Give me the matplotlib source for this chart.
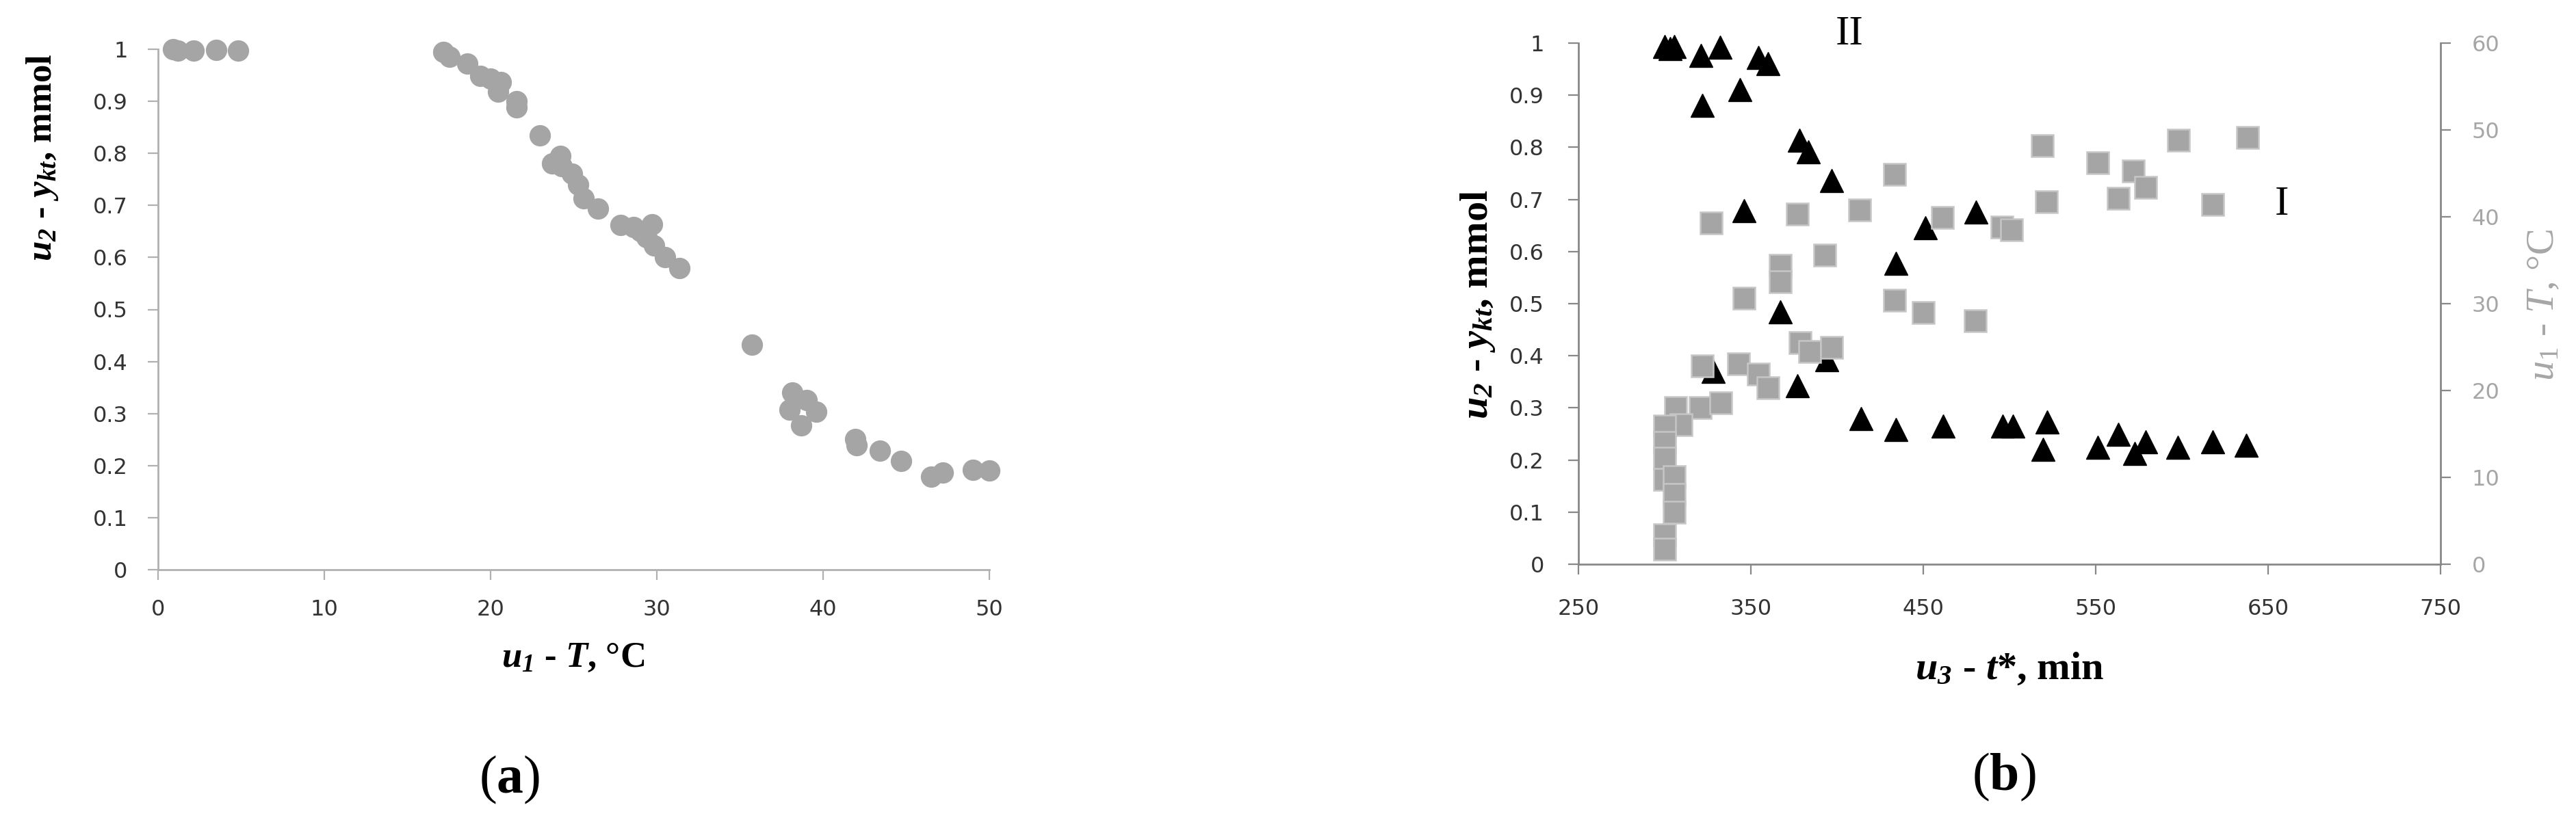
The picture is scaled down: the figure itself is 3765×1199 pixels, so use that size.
import matplotlib
matplotlib.use('Agg')
import matplotlib.pyplot as plt
from matplotlib.ticker import FuncFormatter

# (a) y_kt versus temperature
temp_a = [0.9, 1.2, 2.15, 3.5, 4.8, 17.15, 17.55, 18.6, 19.4, 20.0, 20.6, 20.45, 21.55, 21.55, 22.96,
          23.7, 24.2, 24.3, 24.9, 25.25, 25.6, 26.45, 27.8, 28.6, 29.0, 29.4, 29.7, 29.85, 30.5, 31.35,
          35.7, 38.15, 38.0, 39.0, 38.7, 39.6, 41.95, 42.0, 43.4, 44.7, 46.5, 47.2, 49.0, 50.0]
ykt_a = [1.0, 0.997, 0.997, 0.999, 0.998, 0.995, 0.986, 0.973, 0.949, 0.943, 0.937, 0.918, 0.9, 0.888, 0.835,
         0.78, 0.795, 0.775, 0.761, 0.74, 0.713, 0.694, 0.662, 0.658, 0.651, 0.639, 0.664, 0.623, 0.601, 0.58,
         0.432, 0.34, 0.307, 0.326, 0.277, 0.303, 0.251, 0.239, 0.229, 0.209, 0.179, 0.186, 0.192, 0.19]

# (b) series II: y_kt versus time (triangles)
time_ii = [300, 303, 305.5, 321, 332, 354.5, 360, 343.5, 322, 378, 383.5, 346, 367, 328, 377, 397, 434,
           451, 480.5, 394, 414, 434, 461.5, 496, 502, 522, 519.5, 551, 563, 572.5, 579, 597.5, 618, 637.5]
ykt_ii = [0.994, 0.99, 0.993, 0.977, 0.992, 0.973, 0.961, 0.911, 0.881, 0.813, 0.791, 0.679, 0.484, 0.37,
          0.342, 0.736, 0.578, 0.646, 0.676, 0.393, 0.28, 0.258, 0.265, 0.265, 0.265, 0.273, 0.22, 0.224,
          0.25, 0.212, 0.235, 0.224, 0.235, 0.228]

# (b) series I: temperature versus time (squares)
time_i = [322, 343, 354.5, 360, 306.5, 320.5, 332.5, 309.5, 300, 300, 300, 300, 305.5, 305.5, 305.5, 300,
          300, 327, 377, 367, 367, 346, 378.5, 384, 397, 393, 413, 433.5, 433.5, 450, 461, 480, 495.5,
          501, 519, 521.5, 551, 563, 572, 579, 598, 618, 638]
temp_i = [22.8, 23.1, 21.9, 20.3, 18.0, 18.0, 18.6, 16.1, 15.9, 14.0, 12.2, 9.8, 10.1, 8.0, 6.0, 3.4,
          1.7, 39.3, 40.3, 34.4, 32.5, 30.6, 25.5, 24.5, 25.0, 35.6, 40.8, 44.9, 30.4, 29.0, 39.9, 28.0,
          38.8, 38.5, 48.2, 41.7, 46.2, 42.1, 45.3, 43.4, 48.8, 41.4, 49.1]

ticks_a_x = [0, 10, 20, 30, 40, 50]
ticks_b_x = [250, 350, 450, 550, 650, 750]
ticks_y = [0, 0.1, 0.2, 0.3, 0.4, 0.5, 0.6, 0.7, 0.8, 0.9, 1]
ticks_t = [0, 10, 20, 30, 40, 50, 60]

plt.rcParams['font.family'] = 'DejaVu Sans'
plt.rcParams['mathtext.fontset'] = 'custom'
plt.rcParams['mathtext.rm'] = 'Liberation Serif'
plt.rcParams['mathtext.it'] = 'Liberation Serif:italic'
plt.rcParams['mathtext.bf'] = 'Liberation Serif:bold'
plt.rcParams['mathtext.bfit'] = 'Liberation Serif:italic:bold'

W, H = 3766, 1199
fig = plt.figure(figsize=(W / 100, H / 100), dpi=100)
ax1 = fig.add_axes([231 / W, 1 - 833 / H, 1215 / W, 761 / H])
ax2 = fig.add_axes([2307 / W, 1 - 825 / H, 1260 / W, 762 / H])
ax3 = ax2.twinx()

grey = '#a5a5a5'
fmt = FuncFormatter(lambda v, p: '{:g}'.format(round(v, 2)))


def style(ax, spine_col, sides, pad_x, pad_y):
    for s in ['top', 'right', 'left', 'bottom']:
        if s in sides:
            ax.spines[s].set_color(spine_col)
            ax.spines[s].set_linewidth(2)
        else:
            ax.spines[s].set_visible(False)
    ax.tick_params(axis='both', direction='out', length=11, width=1.6, color=spine_col,
                   labelsize=23, labelcolor='#333333')
    ax.tick_params(axis='x', pad=pad_x)
    ax.tick_params(axis='y', pad=pad_y)


# panel (a)
ax1.plot(temp_a, ykt_a, 'o', ms=21.5, color=grey, mec=grey, clip_on=False)
ax1.set_xlim(0, 50)
ax1.set_ylim(0, 1)
ax1.set_xticks(ticks_a_x)
ax1.set_yticks(ticks_y)
ax1.yaxis.set_major_formatter(fmt)
style(ax1, '#b0b0b0', ['left', 'bottom'], 20, 21)

# panel (b)
ax2.plot(time_ii, ykt_ii, '^', ms=25, color='black', clip_on=False)
ax2.set_xlim(250, 750)
ax2.set_ylim(0, 1)
ax2.set_xticks(ticks_b_x)
ax2.set_yticks(ticks_y)
ax2.yaxis.set_major_formatter(fmt)
style(ax2, '#888888', ['left', 'bottom'], 25, 25)

ax3.plot(time_i, temp_i, 's', ms=23, color=grey, mec='#c6c6c6', mew=1.8, clip_on=False)
ax3.set_ylim(0, 60)
ax3.set_yticks(ticks_t)
style(ax3, '#888888', ['right'], 25, 22)
ax3.tick_params(axis='y', labelcolor='#a6a6a6')

ax2.text(407, 1.017, 'II', fontsize=44, family='Liberation Serif', ha='center', va='center')
ax2.text(658, 0.69, 'I', fontsize=44, family='Liberation Serif', ha='center', va='center')

# axis titles
lab_a = dict(fontsize=38, family='Liberation Serif', weight='bold', ha='center', va='center')
lab_b = dict(lab_a, fontsize=42)
fig.text(62 / W, 1 - 230 / H, r'$\mathbfit{u}_{\mathbfit{2}}$ - $\mathbfit{y}_{\mathbfit{kt}}$, mmol',
         rotation=90, **lab_a)
fig.text(838 / W, 1 - 962 / H, r'$\mathbfit{u}_{\mathbfit{1}}$ - $\mathbfit{T}$, °C', **lab_a)
fig.text(2160 / W, 1 - 445 / H, r'$\mathbfit{u}_{\mathbfit{2}}$ - $\mathbfit{y}_{\mathbfit{kt}}$, mmol',
         rotation=90, **lab_b)
fig.text(2937 / W, 1 - 978 / H, r'$\mathbfit{u}_{\mathbfit{3}}$ - $\mathbfit{t}$*, min', **lab_b)
fig.text(3718 / W, 1 - 446 / H, r'$\mathit{u}_{\mathit{1}}$ - $\mathit{T}$, °C', rotation=90,
         fontsize=42, family='Liberation Serif', color='#a6a6a6', ha='center', va='center')

fig.text(745 / W, 1 - 1140 / H, r'($\mathbf{a}$)', fontsize=56, family='Liberation Serif',
         ha='center', va='center')
fig.text(2929 / W, 1 - 1136 / H, r'($\mathbf{b}$)', fontsize=56, family='Liberation Serif',
         ha='center', va='center')

fig.savefig('out.png', dpi=100, facecolor='white')
